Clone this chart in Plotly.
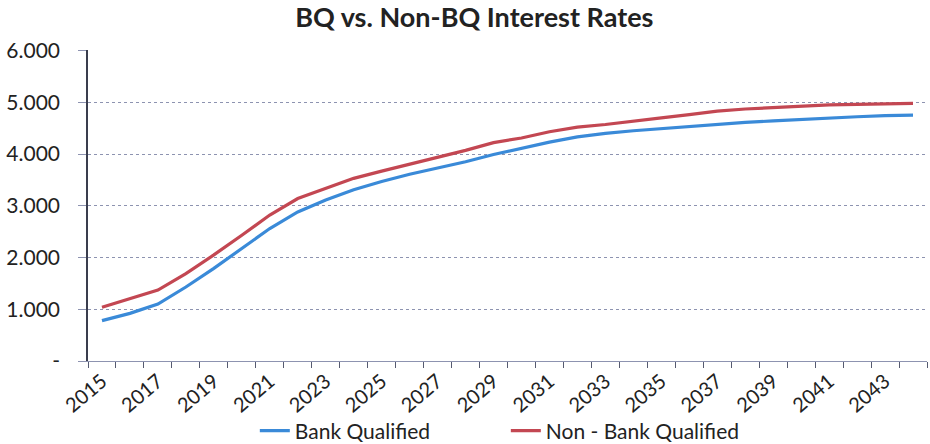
import plotly.graph_objects as go

years = list(range(2015, 2045))
bank_qualified = [0.78, 0.92, 1.10, 1.43, 1.79, 2.18, 2.56, 2.88, 3.11, 3.31,
                  3.47, 3.61, 3.73, 3.85, 3.99, 4.11, 4.23, 4.33, 4.40, 4.45,
                  4.49, 4.54, 4.58, 4.61, 4.64, 4.67, 4.70, 4.72, 4.74, 4.75]
non_bank_qualified = [1.04, 1.21, 1.37, 1.69, 2.05, 2.43, 2.82, 3.14, 3.33, 3.53,
                      3.67, 3.80, 3.93, 4.07, 4.22, 4.31, 4.43, 4.52, 4.57, 4.64,
                      4.70, 4.76, 4.83, 4.87, 4.90, 4.93, 4.95, 4.96, 4.97, 4.98]
y_ticks = [0, 1, 2, 3, 4, 5, 6]
y_tick_labels = ["-", "1.000", "2.000", "3.000", "4.000", "5.000", "6.000"]
x_tick_years = list(range(2015, 2045, 2))

font_family = "Lato, Open Sans, Liberation Sans, sans-serif"

fig = go.Figure()
fig.add_trace(go.Scatter(x=years, y=bank_qualified, mode="lines", name="Bank Qualified",
                         line=dict(color="#3a8ad8", width=3.2)))
fig.add_trace(go.Scatter(x=years, y=non_bank_qualified, mode="lines", name="Non - Bank Qualified",
                         line=dict(color="#c34752", width=3.2)))

fig.update_layout(
    width=930, height=444,
    margin=dict(l=88, r=3, t=50, b=83, autoexpand=False),
    paper_bgcolor="white", plot_bgcolor="white",
    font=dict(family=font_family, color="#222222"),
    title=dict(text="<b>BQ vs. Non-BQ Interest Rates</b>", x=0.51, xanchor="center",
               y=0.96, yanchor="middle", font=dict(size=27, color="#222222")),
    showlegend=True,
    legend=dict(orientation="h", x=0.498, xanchor="center", y=-0.225, yanchor="middle",
                bgcolor="rgba(0,0,0,0)",
                font=dict(size=21, color="#222222"), entrywidth=206, entrywidthmode="pixels",
                traceorder="normal", tracegroupgap=0),
)
fig.update_xaxes(
    range=[2014.5, 2044.5], automargin=False,
    tickmode="array", tickvals=x_tick_years, ticktext=[str(y) for y in x_tick_years],
    tickangle=-40, tickfont=dict(size=20, color="#222222"),
    ticks="", showgrid=False, zeroline=False,
    showline=True, linecolor="#8d93b0", linewidth=1,
    minor=dict(tick0=2014.5, dtick=1, ticks="outside", ticklen=6, tickcolor="#555a70",
               showgrid=False),
)
fig.update_yaxes(
    range=[0, 6.01], automargin=False, tickmode="array", tickvals=y_ticks, ticktext=y_tick_labels,
    tickfont=dict(size=21, color="#222222"),
    ticks="outside", ticklen=8, tickcolor="#8d93b0", ticklabelstandoff=14,
    showgrid=True, gridcolor="#8d93b0", gridwidth=1, griddash="dot",
    zeroline=False, showline=True, linecolor="#3a3d4d", linewidth=1.5,
)

fig.write_html("out.html")
